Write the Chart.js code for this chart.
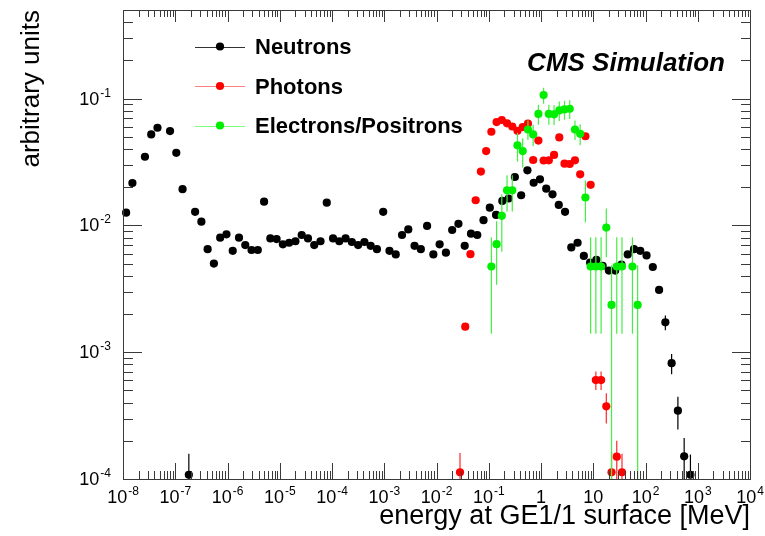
<!DOCTYPE html>
<html>
<head>
<meta charset="utf-8">
<title>Energy spectra at GE1/1</title>
<script src="https://cdn.jsdelivr.net/npm/chart.js@4.4.1/dist/chart.umd.min.js"></script>
<style>
  html, body { margin: 0; padding: 0; background: #fff; }
  canvas { display: block; }
</style>
</head>
<body>
<canvas id="spectrum" width="765" height="536"></canvas>
<script>
// Energy at bin centre (MeV), normalised yield and its uncertainty
const neutronEnergy = [1.148e-8, 1.514e-8, 2.630e-8, 3.467e-8, 4.571e-8, 7.943e-8, 1.047e-7, 1.380e-7,
  1.820e-7, 2.399e-7, 3.162e-7, 4.169e-7, 5.495e-7, 7.244e-7, 9.550e-7, 1.259e-6, 1.660e-6, 2.188e-6,
  2.884e-6, 3.802e-6, 5.012e-6, 6.607e-6, 8.710e-6, 1.148e-5, 1.514e-5, 1.995e-5, 2.630e-5, 3.467e-5,
  4.571e-5, 6.026e-5, 7.943e-5, 1.047e-4, 1.380e-4, 1.820e-4, 2.399e-4, 3.162e-4, 4.169e-4, 5.495e-4,
  7.244e-4, 9.550e-4, 1.259e-3, 1.660e-3, 2.188e-3, 2.884e-3, 3.802e-3, 5.012e-3, 6.607e-3, 8.710e-3,
  0.01148, 0.01514, 0.01995, 0.02630, 0.03467, 0.04571, 0.06026, 0.07943, 0.1047, 0.1380, 0.1820,
  0.2399, 0.3162, 0.4169, 0.5495, 0.7244, 0.9550, 1.259, 1.660, 2.188, 2.884, 3.802, 5.012, 6.607,
  8.710, 11.48, 15.14, 19.95, 26.30, 34.67, 45.71, 60.26, 79.43, 104.7, 138.0, 182.0, 239.9, 316.2,
  416.9, 549.5, 724.4];
const neutronRate = [0.0126, 0.0216, 0.0348, 0.0522, 0.0589, 0.0555, 0.0374, 0.0193,
  0.000108, 0.0128, 0.0107, 0.0065, 0.0050, 0.0080, 0.0085, 0.0063, 0.0080, 0.0070,
  0.0064, 0.0064, 0.0154, 0.0079, 0.0078, 0.0071, 0.0073, 0.0075, 0.0084, 0.0079,
  0.0070, 0.0075, 0.0151, 0.0079, 0.0075, 0.0079, 0.0074, 0.0070, 0.0074, 0.0069,
  0.0065, 0.0128, 0.0063, 0.0059, 0.0084, 0.0093, 0.0069, 0.0065, 0.0099, 0.0059,
  0.0071, 0.0061, 0.0092, 0.0103, 0.0069, 0.0086, 0.0084, 0.0110, 0.0138, 0.0121, 0.0156,
  0.0163, 0.0241, 0.0173, 0.0272, 0.0217, 0.0231, 0.0195, 0.0176, 0.0145, 0.0128, 0.0067,
  0.0073, 0.00575, 0.0051, 0.00535, 0.0048, 0.0044, 0.0044, 0.0049, 0.0059, 0.0065, 0.0063,
  0.0058, 0.0047, 0.0031, 0.00172, 0.00082, 0.000346, 0.000151, 0.000108];
const neutronErr = [0.0004, 0.0006, 0.0010, 0.0015, 0.0017, 0.0016, 0.0011, 0.0006,
  0.00005, 0.0004, 0.0003, 0.0002, 0.0002, 0.0002, 0.0002, 0.0002, 0.0002, 0.0002,
  0.0002, 0.0002, 0.0004, 0.0002, 0.0002, 0.0002, 0.0002, 0.0002, 0.0002, 0.0002,
  0.0002, 0.0002, 0.0004, 0.0002, 0.0002, 0.0002, 0.0002, 0.0002, 0.0002, 0.0002,
  0.0002, 0.0004, 0.0002, 0.0002, 0.0002, 0.0002, 0.0002, 0.0002, 0.0003, 0.0002,
  0.0002, 0.0002, 0.0003, 0.0003, 0.0002, 0.0002, 0.0002, 0.0003, 0.0004, 0.0003, 0.0004,
  0.0004, 0.0006, 0.0004, 0.0007, 0.0005, 0.0006, 0.0005, 0.0004, 0.0004, 0.0003, 0.00015,
  0.00015, 0.00015, 0.00015, 0.00015, 0.00015, 0.00015, 0.00015, 0.00015, 0.00015, 0.00015, 0.00015,
  0.00015, 0.00015, 0.0001, 0.00023, 0.00015, 0.0001, 0.00006, 0.000048];

const photonEnergy = [0.02818, 0.03548, 0.04467, 0.05623, 0.07079, 0.08913, 0.1122, 0.1413,
  0.1778, 0.2239, 0.2818, 0.3548, 0.4467, 0.5623, 0.7079, 0.8913, 1.122, 1.413, 1.778, 2.239,
  2.818, 3.548, 4.467, 5.623, 7.079, 8.913, 11.22, 14.13, 17.78, 22.39, 28.18, 35.48];
const photonRate = [0.000113, 0.00159, 0.00593, 0.0158, 0.0266, 0.0386, 0.0548, 0.0653,
  0.0678, 0.0638, 0.0603, 0.0557, 0.0597, 0.0635, 0.0328, 0.0467, 0.0325, 0.0326, 0.0360, 0.0494,
  0.0307, 0.0305, 0.0326, 0.0253, 0.0505, 0.0209, 0.000603, 0.000603, 0.000374, 0.000113, 0.000150, 0.000113];
const photonErr = [0.000047, 0.0001, 0.00015, 0.0004, 0.0006, 0.0008, 0.0010, 0.0011,
  0.0011, 0.0011, 0.0010, 0.0010, 0.0010, 0.0011, 0.0007, 0.0009, 0.0007, 0.0007, 0.0008, 0.0009,
  0.0007, 0.0007, 0.0007, 0.0006, 0.0009, 0.0005, 0.0001, 0.0001, 0.0001, 0.00005, 0.00005, 0.000045];

const electronEnergy = [0.1122, 0.1413, 0.1778, 0.2239, 0.2818, 0.3548, 0.4467, 0.5623, 0.7079,
  0.8913, 1.122, 1.413, 1.778, 2.239, 2.818, 3.548, 4.467, 5.623, 7.079, 8.913, 11.22, 14.13,
  17.78, 22.39, 28.18, 35.48, 56.23, 70.79];
const electronRate = [0.00474, 0.00711, 0.0119, 0.0189, 0.0189, 0.0428, 0.0386, 0.0571, 0.0522,
  0.0758, 0.1066, 0.0758, 0.0752, 0.0807, 0.0822, 0.0832, 0.0571, 0.0528, 0.0166, 0.00474, 0.00474,
  0.00474, 0.00962, 0.00236, 0.00474, 0.00474, 0.00474, 0.00236];
const electronErr = [0.00334, 0.0037, 0.0057, 0.006, 0.006, 0.011, 0.010, 0.010, 0.010,
  0.0135, 0.0155, 0.0135, 0.0135, 0.014, 0.014, 0.014, 0.010, 0.010, 0.006, 0.00334, 0.00334,
  0.00334, 0.004, 0.0025, 0.00334, 0.00334, 0.00334, 0.0025];

// Axis decades and their labels ("^" marks the exponent)
const xTickValues = [1e-8, 1e-7, 1e-6, 1e-5, 1e-4, 1e-3, 1e-2, 1e-1, 1, 10, 100, 1000, 10000];
const xTickLabels = ['10^-8', '10^-7', '10^-6', '10^-5', '10^-4', '10^-3', '10^-2', '10^-1', '1', '10', '10^2', '10^3', '10^4'];
const yTickValues = [1e-4, 1e-3, 1e-2, 1e-1];
const yTickLabels = ['10^-4', '10^-3', '10^-2', '10^-1'];

const FONT = '"Liberation Sans", Arial, Helvetica, sans-serif';
const AXIS_COLOR = '#3a3a3a';

function toPoints(xs, ys) {
  return xs.map((x, i) => ({ x: x, y: ys[i] }));
}

// Vertical error bars, drawn just before each dataset's markers
const errorBars = {
  id: 'errorBars',
  beforeDatasetDraw(chart, args) {
    const ds = chart.data.datasets[args.index];
    if (!ds.errors) return;
    const yScale = chart.scales.y;
    const area = chart.chartArea;
    const ctx = chart.ctx;
    ctx.save();
    ctx.strokeStyle = ds.barColor || ds.backgroundColor;
    ctx.lineWidth = 1.2;
    ctx.beginPath();
    ds.data.forEach((p, i) => {
      const err = ds.errors[i];
      if (!err) return;
      const px = args.meta.data[i].x;
      const top = Math.max(yScale.getPixelForValue(p.y + err), area.top);
      const low = p.y - err;
      const bottom = low > 0 ? Math.min(yScale.getPixelForValue(low), area.bottom) : area.bottom;
      ctx.moveTo(px, top);
      ctx.lineTo(px, bottom);
    });
    ctx.stroke();
    ctx.restore();
  }
};

// draw "10^e" as base plus raised exponent; align: 'center' or 'right'
function drawPowerLabel(ctx, text, x, baseline, align) {
  const parts = text.split('^');
  ctx.font = '18px ' + FONT;
  const wBase = ctx.measureText(parts[0]).width;
  let wExp = 0;
  if (parts[1]) {
    ctx.font = '12px ' + FONT;
    wExp = ctx.measureText(parts[1]).width + 1;
  }
  const total = wBase + wExp;
  const left = align === 'right' ? x - total : x - total / 2;
  ctx.textAlign = 'left';
  ctx.textBaseline = 'alphabetic';
  ctx.font = '18px ' + FONT;
  ctx.fillText(parts[0], left, baseline);
  if (parts[1]) {
    ctx.font = '12px ' + FONT;
    ctx.fillText(parts[1], left + wBase + 1, baseline - 8);
  }
}

// Frame, inward log ticks, tick labels, titles and legend in ROOT style
const frameAndText = {
  id: 'frameAndText',
  afterDatasetsDraw(chart) {
    const ctx = chart.ctx;
    const a = chart.chartArea;
    const xs = chart.scales.x;
    const ys = chart.scales.y;
    ctx.save();
    ctx.strokeStyle = AXIS_COLOR;
    ctx.lineWidth = 1;
    ctx.beginPath();

    // x axis: bottom and top
    for (let d = -8; d <= 4; d++) {
      for (let k = 1; k <= 9; k++) {
        if (d === 4 && k > 1) break;
        const px = Math.round(xs.getPixelForValue(k * Math.pow(10, d))) + 0.5;
        const major = k === 1;
        ctx.moveTo(px, a.bottom);
        ctx.lineTo(px, a.bottom - (major ? 16 : 8));
        ctx.moveTo(px, a.top);
        ctx.lineTo(px, a.top + (major ? 12 : 7));
      }
    }
    // y axis: left and right
    for (let d = -4; d <= -1; d++) {
      for (let k = 1; k <= 9; k++) {
        const v = k * Math.pow(10, d);
        if (v > ys.max) break;
        const py = Math.round(ys.getPixelForValue(v)) + 0.5;
        const major = k === 1;
        ctx.moveTo(a.left, py);
        ctx.lineTo(a.left + (major ? 19 : 10), py);
        ctx.moveTo(a.right, py);
        ctx.lineTo(a.right - (major ? 18 : 9), py);
      }
    }
    ctx.stroke();
    ctx.strokeRect(Math.round(a.left) + 0.5, Math.round(a.top) + 0.5,
      Math.round(a.right - a.left), Math.round(a.bottom - a.top));
    ctx.restore();
  },
  afterDraw(chart) {
    const ctx = chart.ctx;
    const a = chart.chartArea;
    const xs = chart.scales.x;
    const ys = chart.scales.y;
    ctx.save();
    ctx.fillStyle = '#000';

    xTickValues.forEach((v, i) => {
      drawPowerLabel(ctx, xTickLabels[i], xs.getPixelForValue(v), a.bottom + 24, 'center');
    });
    yTickValues.forEach((v, i) => {
      drawPowerLabel(ctx, yTickLabels[i], a.left - 12, ys.getPixelForValue(v) + 6, 'right');
    });

    // axis titles
    ctx.font = '27px ' + FONT;
    ctx.textAlign = 'right';
    ctx.textBaseline = 'alphabetic';
    ctx.fillText('energy at GE1/1 surface [MeV]', a.right, 524);

    ctx.save();
    ctx.translate(39, a.top);
    ctx.rotate(-Math.PI / 2);
    ctx.font = '26px ' + FONT;
    ctx.textAlign = 'right';
    ctx.fillText('arbitrary units', 0, 0);
    ctx.restore();

    // CMS label
    ctx.font = 'italic bold 26px ' + FONT;
    ctx.textAlign = 'right';
    ctx.fillText('CMS Simulation', 725, 71);

    // legend: line + marker + bold label
    const rows = [46.5, 86, 125.5];
    chart.data.datasets.slice().sort((p, q) => p.legendRank - q.legendRank).forEach((ds, i) => {
      const y = rows[i];
      ctx.strokeStyle = ds.lineColor;
      ctx.lineWidth = 1;
      ctx.beginPath();
      ctx.moveTo(195, Math.round(y) + 0.5);
      ctx.lineTo(245, Math.round(y) + 0.5);
      ctx.stroke();
      ctx.fillStyle = ds.backgroundColor;
      ctx.beginPath();
      ctx.arc(220, y, 4.1, 0, Math.PI * 2);
      ctx.fill();
      ctx.fillStyle = '#000';
      ctx.font = 'bold 22px ' + FONT;
      ctx.textAlign = 'left';
      ctx.fillText(ds.label, 255, y + 7.5);
    });
    ctx.restore();
  }
};

const markerStyle = {
  showLine: false,
  pointRadius: 4.1,
  pointHoverRadius: 4.1,
  pointBorderWidth: 0,
  clip: 6
};

new Chart(document.getElementById('spectrum'), {
  type: 'scatter',
  data: {
    datasets: [
      Object.assign({
        label: 'Electrons/Positrons',
        data: toPoints(electronEnergy, electronRate),
        errors: electronErr,
        backgroundColor: '#00ee00',
        borderColor: '#00ee00',
        barColor: '#44ee44',
        lineColor: '#7dff7d',
        legendRank: 2,
        order: 0
      }, markerStyle),
      Object.assign({
        label: 'Photons',
        data: toPoints(photonEnergy, photonRate),
        errors: photonErr,
        backgroundColor: '#ff0000',
        borderColor: '#ff0000',
        barColor: '#ff2a2a',
        lineColor: '#ff8080',
        legendRank: 1,
        order: 1
      }, markerStyle),
      Object.assign({
        label: 'Neutrons',
        data: toPoints(neutronEnergy, neutronRate),
        errors: neutronErr,
        backgroundColor: '#000000',
        borderColor: '#000000',
        barColor: '#000000',
        lineColor: '#333333',
        legendRank: 0,
        order: 2
      }, markerStyle)
    ]
  },
  options: {
    responsive: false,
    animation: false,
    devicePixelRatio: 1,
    layout: { padding: { left: 123, right: 15, top: 10, bottom: 57 } },
    plugins: {
      legend: { display: false },
      tooltip: { enabled: false }
    },
    events: [],
    scales: {
      x: { type: 'logarithmic', min: 1e-8, max: 1e4, display: false },
      y: { type: 'logarithmic', min: 1e-4, max: 0.5, display: false }
    }
  },
  plugins: [errorBars, frameAndText]
});
</script>
</body>
</html>
